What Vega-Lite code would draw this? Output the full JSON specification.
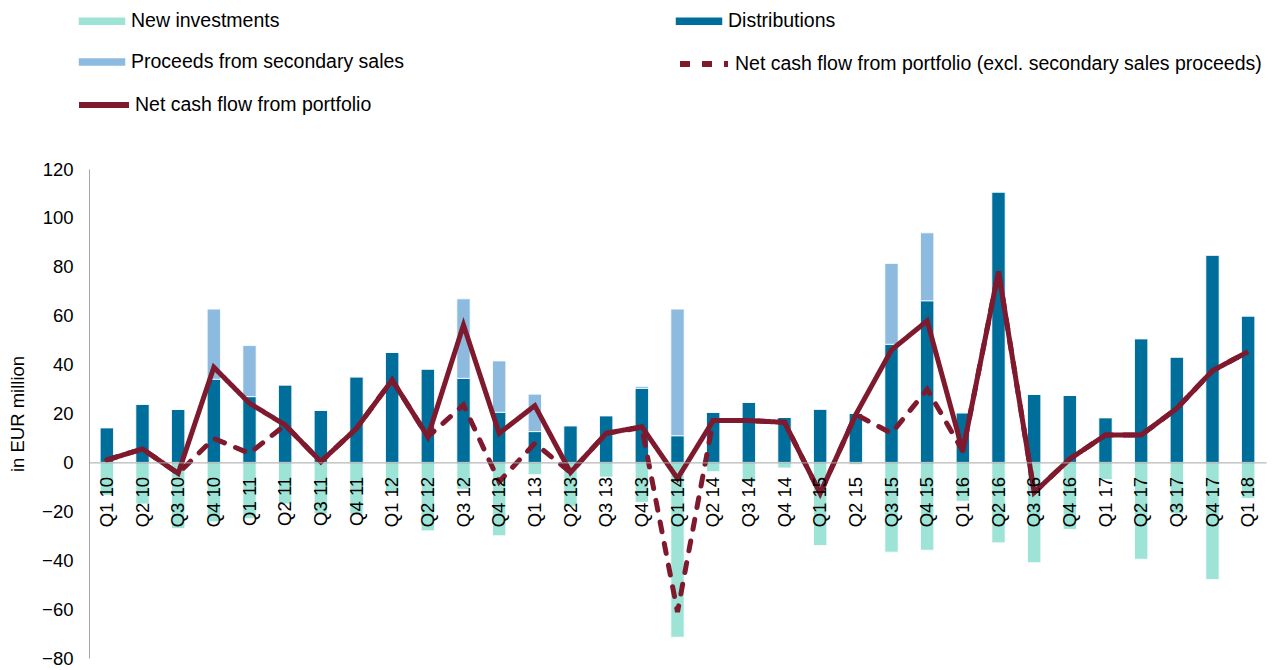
{
  "$schema": "https://vega.github.io/schema/vega-lite/v6.json",
  "width": 1177,
  "height": 489,
  "autosize": {"type": "none"},
  "padding": {"left": 89, "top": 169, "right": 7, "bottom": 12},
  "background": "white",
  "config": {"font": "Liberation Sans", "view": {"stroke": null}, "axis": {"grid": false}},
  "data": {"values": [
    {"q": "Q1 10", "inv": -13.4, "dist": 14.2, "sec": 0, "excl": 1, "net": 1},
    {"q": "Q2 10", "inv": -17, "dist": 23.8, "sec": 0, "excl": 5.5, "net": 5.5},
    {"q": "Q3 10", "inv": -27, "dist": 21.7, "sec": 0, "excl": -4.5, "net": -4.5},
    {"q": "Q4 10", "inv": -24.3, "dist": 34, "sec": 28.7, "excl": 9.8, "net": 38.9},
    {"q": "Q1 11", "inv": -23, "dist": 26.9, "sec": 20.9, "excl": 3.7, "net": 24.2},
    {"q": "Q2 11", "inv": -17, "dist": 31.7, "sec": 0, "excl": 15.3, "net": 15.3},
    {"q": "Q3 11", "inv": -21, "dist": 21.3, "sec": 0, "excl": 0.3, "net": 0.3},
    {"q": "Q4 11", "inv": -21.2, "dist": 35, "sec": 0, "excl": 13.9, "net": 13.9},
    {"q": "Q1 12", "inv": -12, "dist": 45, "sec": 0, "excl": 33.7, "net": 33.7},
    {"q": "Q2 12", "inv": -28, "dist": 38.2, "sec": 0, "excl": 10.5, "net": 10.5},
    {"q": "Q3 12", "inv": -11, "dist": 34.4, "sec": 32.5, "excl": 23.5, "net": 56.2},
    {"q": "Q4 12", "inv": -30, "dist": 20.5, "sec": 21, "excl": -7.9, "net": 11.9},
    {"q": "Q1 13", "inv": -5, "dist": 12.6, "sec": 15.3, "excl": 7.8, "net": 23.2},
    {"q": "Q2 13", "inv": -18, "dist": 15, "sec": 0, "excl": -4.1, "net": -4.1},
    {"q": "Q3 13", "inv": -6, "dist": 19.1, "sec": 0, "excl": 11.9, "net": 11.9},
    {"q": "Q4 13", "inv": -16.3, "dist": 30.3, "sec": 0.8, "excl": 14.3, "net": 14.6},
    {"q": "Q1 14", "inv": -71.5, "dist": 10.9, "sec": 51.8, "excl": -61.2, "net": -6.6},
    {"q": "Q2 14", "inv": -3.8, "dist": 20.5, "sec": 0, "excl": 17.1, "net": 17.1},
    {"q": "Q3 14", "inv": -8, "dist": 24.6, "sec": 0, "excl": 17.1, "net": 17.1},
    {"q": "Q4 14", "inv": -2.3, "dist": 18.4, "sec": 0, "excl": 16.4, "net": 16.4},
    {"q": "Q1 15", "inv": -34, "dist": 21.8, "sec": 0, "excl": -12.7, "net": -12.7},
    {"q": "Q2 15", "inv": -0.9, "dist": 20.1, "sec": 0, "excl": 19.6, "net": 19.6},
    {"q": "Q3 15", "inv": -36.7, "dist": 48.3, "sec": 33.1, "excl": 11.9, "net": 46},
    {"q": "Q4 15", "inv": -35.9, "dist": 66.1, "sec": 27.8, "excl": 29.9, "net": 57.9},
    {"q": "Q1 16", "inv": -15.9, "dist": 20.3, "sec": 0, "excl": 4.6, "net": 4.6},
    {"q": "Q2 16", "inv": -32.9, "dist": 110.6, "sec": 0, "excl": 78.1, "net": 78.1},
    {"q": "Q3 16", "inv": -41, "dist": 27.8, "sec": 0, "excl": -12.3, "net": -12.3},
    {"q": "Q4 16", "inv": -27.4, "dist": 27.4, "sec": 0, "excl": 1.4, "net": 1.4},
    {"q": "Q1 17", "inv": -7, "dist": 18.3, "sec": 0, "excl": 11.2, "net": 11.2},
    {"q": "Q2 17", "inv": -39.6, "dist": 50.6, "sec": 0, "excl": 11.2, "net": 11.2},
    {"q": "Q3 17", "inv": -21, "dist": 43.1, "sec": 0, "excl": 22.1, "net": 22.1},
    {"q": "Q4 17", "inv": -47.9, "dist": 84.8, "sec": 0, "excl": 37.5, "net": 37.5},
    {"q": "Q1 18", "inv": -14.7, "dist": 59.9, "sec": 0, "excl": 45.3, "net": 45.3}
  ]},
  "transform": [
    {"fold": ["inv", "dist", "sec", "excl", "net"], "as": ["series", "value"]}
  ],
  "resolve": {"scale": {"strokeDash": "independent"}, "legend": {"strokeDash": "independent"}},
  "encoding": {
    "x": {
      "field": "q",
      "type": "nominal",
      "sort": null,
      "title": null,
      "scale": {"paddingInner": 0, "paddingOuter": 0},
      "axis": {
        "offset": -195.6,
        "ticks": false,
        "labelAngle": -90,
        "labelFontSize": 18.5,
        "labelColor": "#000000",
        "labelPadding": 14,
        "labelOverlap": false,
        "domainColor": "#A6A6A6",
        "domainWidth": 1,
        "zindex": 1
      }
    }
  },
  "layer": [
    {
      "transform": [{"filter": {"field": "series", "oneOf": ["inv", "dist", "sec"]}}],
      "mark": {"type": "bar", "width": {"band": 0.373}, "stroke": "white", "strokeWidth": 0.8},
      "encoding": {
        "y": {
          "field": "value",
          "type": "quantitative",
          "stack": "zero",
          "title": "in EUR million",
          "scale": {"domain": [-80, 120], "nice": false, "zero": false},
          "axis": {
            "values": [-80, -60, -40, -20, 0, 20, 40, 60, 80, 100, 120],
            "ticks": false,
            "labelFontSize": 18.5,
            "labelColor": "#000000",
            "labelPadding": 16,
            "domainColor": "#A6A6A6",
            "titleFontSize": 18.5,
            "titleFontWeight": "normal",
            "titleColor": "#000000",
            "titlePadding": 14
          }
        },
        "color": {
          "field": "series",
          "type": "nominal",
          "scale": {
            "domain": ["inv", "sec", "dist"],
            "range": ["#9de3d6", "#8dbbe0", "#006e9a"]
          },
          "legend": {
            "title": null,
            "orient": "none",
            "legendX": -8,
            "legendY": -169,
            "columns": 2,
            "columnPadding": 267,
            "rowPadding": 10,
            "symbolSize": 1600,
            "symbolType": "M-1.2,-0.22H1.2V0.22H-1.2Z",
            "labelOffset": 8,
            "labelFontSize": 19.5,
            "labelColor": "#000000",
            "labelLimit": 800,
            "labelExpr": "{'inv': 'New investments', 'dist': 'Distributions', 'sec': 'Proceeds from secondary sales'}[datum.value]"
          }
        },
        "order": {"field": "series", "sort": "ascending"}
      }
    },
    {
      "transform": [{"filter": {"field": "series", "equal": "excl"}}],
      "mark": {"type": "line", "strokeWidth": 5, "strokeCap": "round", "color": "#7f1a2e"},
      "encoding": {
        "y": {"field": "value", "type": "quantitative"},
        "strokeDash": {
          "field": "series",
          "type": "nominal",
          "scale": {"domain": ["excl"], "range": [[10, 12]]},
          "legend": {
            "title": null,
            "orient": "none",
            "legendX": 592,
            "legendY": -128,
            "symbolSize": 1600,
            "symbolType": "M-1.2,0H1.2",
            "symbolStrokeWidth": 6,
            "symbolStrokeColor": "#7f1a2e",
            "symbolFillColor": "transparent",
            "symbolOpacity": 1,
            "labelOffset": 8,
            "labelFontSize": 19.5,
            "labelColor": "#000000",
            "labelLimit": 800,
            "labelExpr": "'Net cash flow from portfolio (excl. secondary sales proceeds)'"
          }
        }
      }
    },
    {
      "transform": [{"filter": {"field": "series", "equal": "net"}}],
      "mark": {"type": "line", "strokeWidth": 5, "color": "#7f1a2e"},
      "encoding": {
        "y": {"field": "value", "type": "quantitative"},
        "strokeDash": {
          "field": "series",
          "type": "nominal",
          "scale": {"domain": ["net"], "range": [[1, 0]]},
          "legend": {
            "title": null,
            "orient": "none",
            "legendX": -8,
            "legendY": -87,
            "symbolSize": 1600,
            "symbolType": "M-1.25,0H1.25",
            "symbolStrokeWidth": 6,
            "symbolStrokeColor": "#7f1a2e",
            "symbolFillColor": "transparent",
            "symbolOpacity": 1,
            "labelOffset": 8,
            "labelFontSize": 19.5,
            "labelColor": "#000000",
            "labelLimit": 800,
            "labelExpr": "'Net cash flow from portfolio'"
          }
        }
      }
    }
  ]
}
